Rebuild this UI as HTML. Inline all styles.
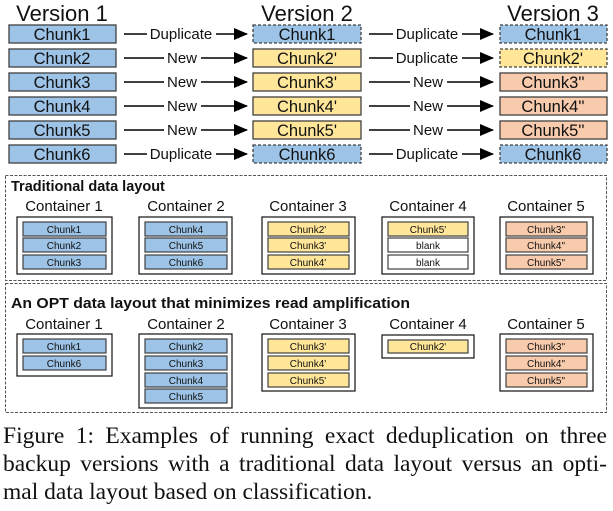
<!DOCTYPE html>
<html><head><meta charset="utf-8"><style>
body{margin:0;background:#fff;width:613px;height:511px;overflow:hidden}
svg{position:absolute;left:0;top:0}
.cap{position:absolute;left:3px;top:422px;width:604px;font-family:"Liberation Serif",serif;font-size:23.5px;line-height:28px;color:#111}
.cap div{text-align:justify;text-align-last:justify;white-space:nowrap}
.cap div.l{text-align-last:left}
</style></head><body>
<svg width="613" height="420" viewBox="0 0 613 420" font-family="Liberation Sans, sans-serif">
<defs><marker id="a" markerWidth="14" markerHeight="12" refX="13" refY="6" orient="auto" markerUnits="userSpaceOnUse"><path d="M0,0 L14,6 L0,12z" fill="#000"/></marker></defs>
<g font-size="22" text-anchor="middle" fill="#111">
<text x="62" y="21">Version 1</text><text x="307" y="21">Version 2</text><text x="553" y="21">Version 3</text></g>
<g id="top" font-size="16.5" text-anchor="middle" fill="#111" stroke-width="1.3">
<g fill="#9DC3E6" stroke="#404040">
<rect x="9" y="25" width="107" height="18"/><rect x="9" y="49" width="107" height="18"/><rect x="9" y="73" width="107" height="18"/><rect x="9" y="97" width="107" height="18"/><rect x="9" y="121" width="107" height="18"/><rect x="9" y="145" width="107" height="18"/></g>
<rect x="253" y="25" width="108" height="18" fill="#9DC3E6" stroke="#404040" stroke-dasharray="3,2"/>
<g fill="#FFE699" stroke="#404040"><rect x="253" y="49" width="108" height="18"/><rect x="253" y="73" width="108" height="18"/><rect x="253" y="97" width="108" height="18"/><rect x="253" y="121" width="108" height="18"/></g>
<rect x="253" y="145" width="108" height="18" fill="#9DC3E6" stroke="#404040" stroke-dasharray="3,2"/>
<rect x="500" y="25" width="107" height="18" fill="#9DC3E6" stroke="#404040" stroke-dasharray="3,2"/>
<rect x="500" y="49" width="107" height="18" fill="#FFE699" stroke="#404040" stroke-dasharray="3,2"/>
<g fill="#F8CBAD" stroke="#404040"><rect x="500" y="73" width="107" height="18"/><rect x="500" y="97" width="107" height="18"/><rect x="500" y="121" width="107" height="18"/></g>
<rect x="500" y="145" width="107" height="18" fill="#9DC3E6" stroke="#404040" stroke-dasharray="3,2"/>
<g>
<text x="62" y="40">Chunk1</text><text x="62" y="64">Chunk2</text><text x="62" y="88">Chunk3</text><text x="62" y="112">Chunk4</text><text x="62" y="136">Chunk5</text><text x="62" y="160">Chunk6</text>
<text x="307" y="40">Chunk1</text><text x="307" y="64">Chunk2'</text><text x="307" y="88">Chunk3'</text><text x="307" y="112">Chunk4'</text><text x="307" y="136">Chunk5'</text><text x="307" y="160">Chunk6</text>
<text x="553" y="40">Chunk1</text><text x="553" y="64">Chunk2'</text><text x="553" y="88">Chunk3''</text><text x="553" y="112">Chunk4''</text><text x="553" y="136">Chunk5''</text><text x="553" y="160">Chunk6</text>
</g>
<g stroke="#000" stroke-width="1.6" marker-end="url(#a)">
<line x1="124" y1="34" x2="247" y2="34"/><line x1="124" y1="58" x2="247" y2="58"/><line x1="124" y1="82" x2="247" y2="82"/><line x1="124" y1="106" x2="247" y2="106"/><line x1="124" y1="130" x2="247" y2="130"/><line x1="124" y1="154" x2="247" y2="154"/>
<line x1="369" y1="34" x2="493" y2="34"/><line x1="369" y1="58" x2="493" y2="58"/><line x1="369" y1="82" x2="493" y2="82"/><line x1="369" y1="106" x2="493" y2="106"/><line x1="369" y1="130" x2="493" y2="130"/><line x1="369" y1="154" x2="493" y2="154"/>
</g>
<g font-size="15">
<rect x="147" y="26" width="69" height="16" fill="#fff"/><text x="181" y="39">Duplicate</text>
<rect x="164" y="50" width="37" height="16" fill="#fff"/><text x="182" y="63">New</text>
<rect x="164" y="74" width="37" height="16" fill="#fff"/><text x="182" y="87">New</text>
<rect x="164" y="98" width="37" height="16" fill="#fff"/><text x="182" y="111">New</text>
<rect x="164" y="122" width="37" height="16" fill="#fff"/><text x="182" y="135">New</text>
<rect x="147" y="146" width="69" height="16" fill="#fff"/><text x="181" y="159">Duplicate</text>
<rect x="393" y="26" width="69" height="16" fill="#fff"/><text x="427" y="39">Duplicate</text>
<rect x="393" y="50" width="69" height="16" fill="#fff"/><text x="427" y="63">Duplicate</text>
<rect x="410" y="74" width="37" height="16" fill="#fff"/><text x="428" y="87">New</text>
<rect x="410" y="98" width="37" height="16" fill="#fff"/><text x="428" y="111">New</text>
<rect x="410" y="122" width="37" height="16" fill="#fff"/><text x="428" y="135">New</text>
<rect x="393" y="146" width="69" height="16" fill="#fff"/><text x="427" y="159">Duplicate</text>
</g>
</g>
<g fill="none" stroke="#555" stroke-width="1" stroke-dasharray="3,1.5">
<rect x="5.5" y="175.5" width="601" height="105"/>
<rect x="5.5" y="283.5" width="601" height="129"/>
</g>
<g font-weight="bold" font-size="14.5" fill="#111">
<text x="11" y="191">Traditional data layout</text>
<text x="11" y="308" textLength="399" lengthAdjust="spacingAndGlyphs">An OPT data layout that minimizes read amplification</text>
</g>
<g font-size="15" text-anchor="middle" fill="#111">
<text x="64" y="211">Container 1</text><text x="186" y="211">Container 2</text><text x="308" y="211">Container 3</text><text x="428" y="211">Container 4</text><text x="546" y="211">Container 5</text>
<text x="64" y="329">Container 1</text><text x="186" y="329">Container 2</text><text x="308" y="329">Container 3</text><text x="428" y="329">Container 4</text><text x="546" y="329">Container 5</text>
</g>
<g fill="#fff" stroke="#111" stroke-width="1.2">
<rect x="17" y="217" width="95" height="57"/><rect x="139" y="217" width="93" height="57"/><rect x="262" y="217" width="93" height="57"/><rect x="382" y="217" width="92" height="57"/><rect x="500" y="217" width="93" height="57"/>
<rect x="17" y="334" width="95" height="42"/><rect x="139" y="334" width="93" height="74"/><rect x="262" y="334" width="93" height="57"/><rect x="382" y="335" width="92" height="23"/><rect x="500" y="334" width="93" height="57"/>
</g>
<g stroke="#404040" stroke-width="1.2">
<g fill="#9DC3E6">
<rect x="23" y="222" width="83" height="14"/><rect x="23" y="238" width="83" height="14"/><rect x="23" y="255" width="83" height="14"/>
<rect x="145" y="222" width="82" height="14"/><rect x="145" y="238" width="82" height="14"/><rect x="145" y="255" width="82" height="14"/>
<rect x="23" y="339" width="83" height="14"/><rect x="23" y="356" width="83" height="14"/>
<rect x="145" y="339" width="82" height="14"/><rect x="145" y="356" width="82" height="14"/><rect x="145" y="373" width="82" height="14"/><rect x="145" y="389" width="82" height="14"/>
</g>
<g fill="#FFE699">
<rect x="268" y="222" width="81" height="14"/><rect x="268" y="238" width="81" height="14"/><rect x="268" y="255" width="81" height="14"/>
<rect x="388" y="222" width="80" height="14"/>
<rect x="268" y="339" width="81" height="14"/><rect x="268" y="356" width="81" height="14"/><rect x="268" y="373" width="81" height="14"/>
<rect x="388" y="340" width="80" height="13"/>
</g>
<g fill="#fff"><rect x="388" y="238" width="80" height="14"/><rect x="388" y="255" width="80" height="14"/></g>
<g fill="#F8CBAD">
<rect x="506" y="222" width="81" height="14"/><rect x="506" y="238" width="81" height="14"/><rect x="506" y="255" width="81" height="14"/>
<rect x="506" y="339" width="81" height="14"/><rect x="506" y="356" width="81" height="14"/><rect x="506" y="373" width="81" height="14"/>
</g>
</g>
<g font-size="10" text-anchor="middle" fill="#111">
<text x="64" y="233">Chunk1</text><text x="64" y="249">Chunk2</text><text x="64" y="266">Chunk3</text>
<text x="186" y="233">Chunk4</text><text x="186" y="249">Chunk5</text><text x="186" y="266">Chunk6</text>
<text x="308" y="233">Chunk2'</text><text x="308" y="249">Chunk3'</text><text x="308" y="266">Chunk4'</text>
<text x="428" y="233">Chunk5'</text><text x="428" y="249">blank</text><text x="428" y="266">blank</text>
<text x="546" y="233">Chunk3"</text><text x="546" y="249">Chunk4"</text><text x="546" y="266">Chunk5"</text>
<text x="64" y="350">Chunk1</text><text x="64" y="367">Chunk6</text>
<text x="186" y="350">Chunk2</text><text x="186" y="367">Chunk3</text><text x="186" y="384">Chunk4</text><text x="186" y="400">Chunk5</text>
<text x="308" y="350">Chunk3'</text><text x="308" y="367">Chunk4'</text><text x="308" y="384">Chunk5'</text>
<text x="428" y="350">Chunk2'</text>
<text x="546" y="350">Chunk3"</text><text x="546" y="367">Chunk4"</text><text x="546" y="384">Chunk5"</text>
</g>
</svg>
<div class="cap"><div>Figure 1: Examples of running exact deduplication on three</div><div>backup versions with a traditional data layout versus an opti-</div><div class="l">mal data layout based on classification.</div></div>
</body></html>
